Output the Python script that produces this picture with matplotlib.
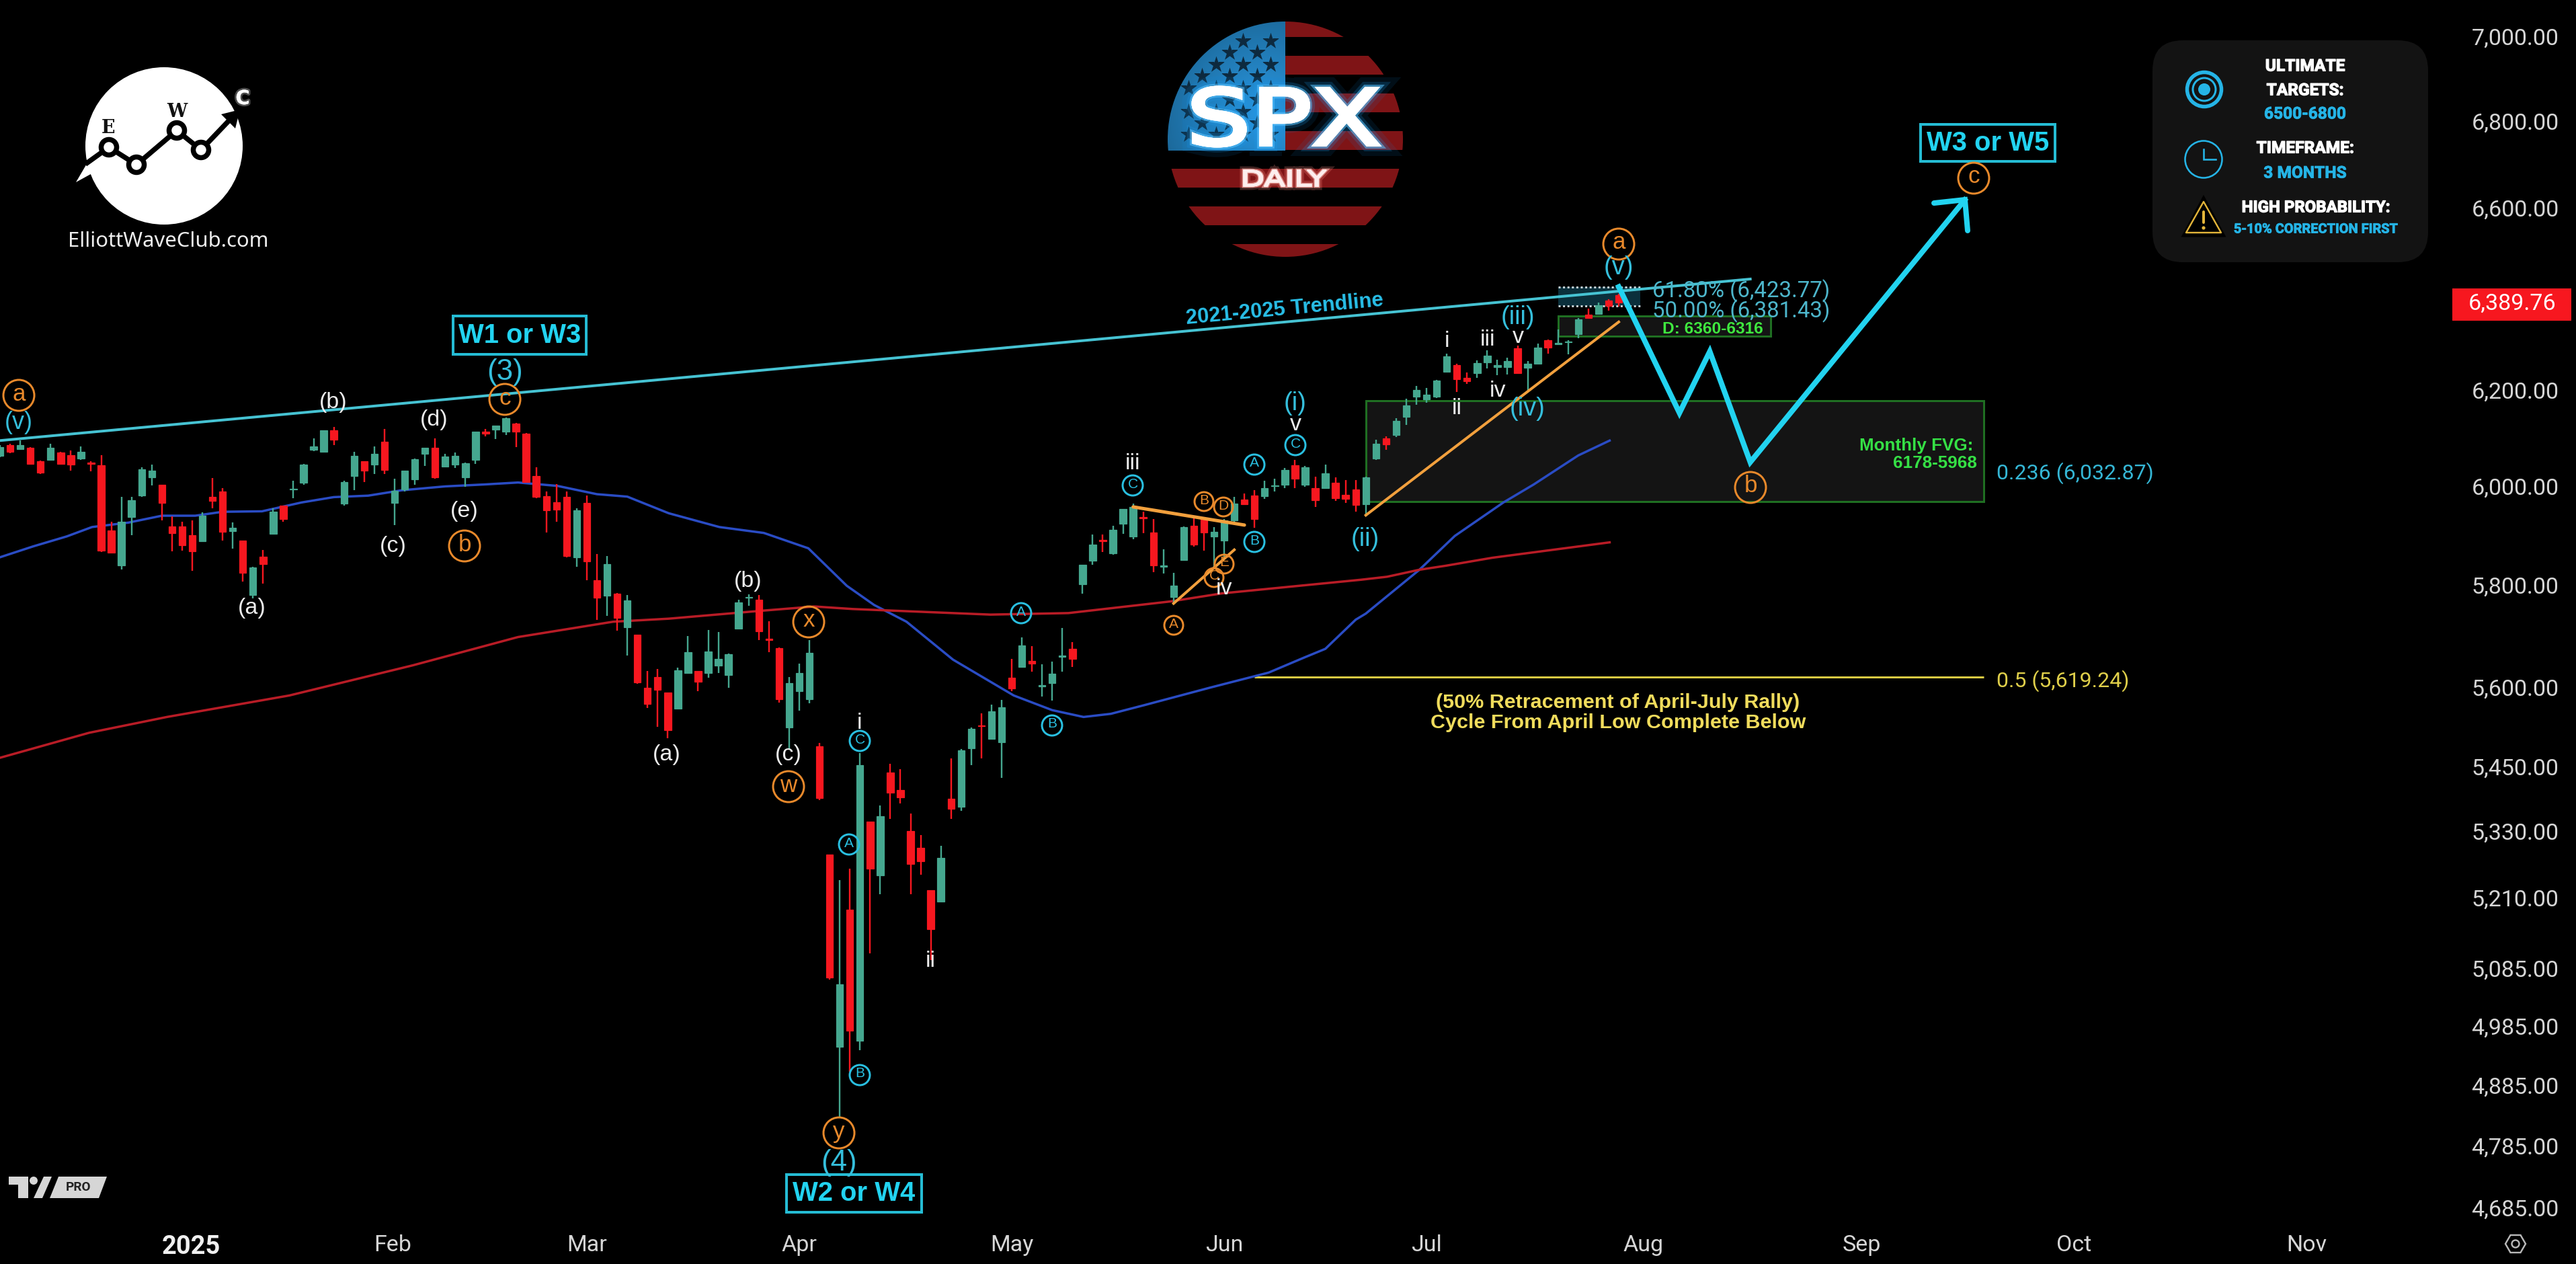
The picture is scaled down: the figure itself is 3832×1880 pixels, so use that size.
import numpy as np
import matplotlib
matplotlib.use("Agg")
import matplotlib.pyplot as plt
from matplotlib.patches import Circle, Rectangle, Polygon, FancyBboxPatch, PathPatch
from matplotlib.ticker import FixedLocator, NullLocator, FixedFormatter
from matplotlib.textpath import TextPath
from matplotlib.font_manager import FontProperties
from matplotlib.transforms import Affine2D
import matplotlib.patheffects as pe

# Daily SPX candles
opens = [6062,6084,6076,6079,6051,6054,6069,6063,6057,6048,6042,5909,5838,5936,5980,6018,6002,5917,5917,5899,
         5887,5978,5989,5908,5888,5780,5856,5902,5959,5992,6007,6075,6070,6116,5964,6021,6051,6044,6092,5965,
         5992,6014,6066,6079,6040,6044,6018,6054,6112,6117,6113,6130,6109,6020,5979,5967,5978,5855,5965,5809,
         5778,5783,5716,5701,5599,5619,5590,5559,5627,5631,5627,5641,5623,5713,5774,5771,5694,5676,5523,5592,
         5577,5488,5287,4950,5188,4961,5348,5250,5438,5406,5330,5300,5224,5203,5390,5375,5484,5527,5502,5495,
         5618,5639,5650,5601,5608,5659,5674,5801,5848,5890,5863,5923,5897,5936,5905,5836,5776,5849,5919,5934,
         5897,5889,5930,5972,5980,5979,5999,6003,6043,6003,5995,5996,6006,5981,5992,5963,6056,6099,6105,6144,
         6186,6180,6186,6240,6254,6227,6237,6260,6249,6249,6290,6248,6256,6308,6299,6303,6320,6363,6364,6393,
         6405]
highs = [6084,6087,6095,6081,6053,6087,6070,6073,6082,6051,6064,5927,5977,5977,6038,6044,6002,5937,5927,5930,
         5946,6016,5995,5925,5888,5836,5869,5954,5960,6010,6046,6098,6115,6123,6010,6070,6051,6082,6118,6015,
         6032,6057,6079,6098,6066,6069,6048,6112,6118,6126,6143,6131,6110,6038,5989,6004,5989,5954,5980,5861,
         5858,5784,5780,5702,5631,5635,5590,5638,5699,5631,5711,5707,5665,5771,5781,5780,5728,5677,5620,5645,
         5691,5494,5287,5241,5262,5475,5348,5377,5455,5445,5362,5323,5224,5304,5465,5483,5523,5550,5566,5576,
         5654,5696,5679,5644,5649,5715,5687,5840,5901,5901,5918,5953,5964,5947,5932,5871,5824,5917,5934,5935,
         5916,5932,5977,5985,5991,6010,6015,6037,6054,6041,6019,6044,6017,6012,6012,6019,6096,6103,6141,6182,
         6209,6205,6222,6279,6256,6238,6264,6285,6265,6269,6296,6263,6300,6309,6331,6307,6355,6376,6390,6396,
         6409]
lows = [6060,6068,6076,6044,6025,6053,6044,6031,6054,6030,5865,5863,5830,5899,5978,6001,5930,5867,5868,5828,
        5886,5954,5888,5872,5806,5773,5802,5901,5927,5975,6002,6072,6070,6084,5960,5991,6008,6024,6024,5920,
        5989,6002,6041,6015,6039,6037,5998,6046,6103,6097,6106,6081,6006,5975,5905,5927,5855,5836,5809,5730,
        5739,5710,5661,5606,5560,5524,5503,5558,5626,5592,5618,5627,5599,5713,5759,5691,5668,5570,5482,5555,
        5569,5387,5066,4831,4908,4944,5111,5216,5353,5381,5216,5251,5100,5202,5352,5367,5452,5465,5502,5428,
        5592,5638,5630,5582,5574,5630,5639,5782,5840,5865,5860,5902,5891,5903,5825,5822,5761,5848,5876,5868,
        5836,5855,5924,5961,5914,5973,5988,5995,5996,5998,5957,5995,5969,5965,5947,5937,6054,6075,6102,6127,
        6169,6173,6184,6239,6196,6213,6226,6246,6232,6234,6236,6200,6255,6279,6298,6277,6311,6355,6363,6371,
        6380]
closes = [6081,6070,6084,6046,6027,6079,6046,6044,6070,6046,5868,5864,5927,5971,6034,6031,5965,5903,5879,5867,
          5939,5969,5906,5915,5824,5834,5841,5947,5932,5994,6044,6082,6115,6096,6008,6062,6032,6066,6033,5990,
          6032,6055,6079,6018,6061,6062,6047,6112,6109,6125,6141,6112,6008,5978,5950,5951,5858,5950,5847,5775,
          5841,5734,5769,5609,5568,5595,5518,5633,5668,5610,5669,5655,5663,5765,5776,5708,5691,5577,5608,5627,
          5666,5391,5069,5058,4978,5452,5262,5357,5401,5392,5270,5276,5154,5282,5371,5480,5520,5525,5554,5562,
          5598,5681,5646,5604,5626,5661,5655,5840,5881,5887,5911,5953,5957,5934,5838,5838,5798,5916,5881,5905,
          5906,5930,5964,5963,5932,5995,6001,6033,6015,6039,5971,6026,5975,5973,5961,6018,6087,6086,6135,6168,
          6200,6191,6220,6273,6223,6219,6258,6274,6254,6263,6237,6257,6291,6292,6301,6305,6353,6356,6384,6382,
          6389.76]
bar_index = np.arange(len(closes))

# Moving averages, sampled by bar position
ma50_bar = [0,3.3,6.6,9.1,12.7,16,19.3,22,25.9,29.8,33,36.4,39.7,44,47.9,51.2,55.1,59,62,66.1,71.1,75.5,79.9,83.7,
            86.4,89.6,94.2,100.2,104,107.1,109.8,113.2,119.6,125.4,128.9,131,134,135,140.3,143.8,148.6,151.6,156,159.1]
ma50_val = [5855,5877,5897,5916,5925,5939,5939,5947,5948,5966,5977,5980,5991,5999,6003,6007,6000,5983,5978,5944,5916,5904,5873,5798,
            5760,5727,5653,5584,5556,5543,5549,5566,5599,5628,5657,5674,5731,5743,5830,5898,5966,6003,6063,6094]
ma200_bar = [0,8.8,16.5,28.6,40.8,51.2,60.6,66.1,74.9,80.5,84.3,97.9,105.6,115.7,120.8,134.5,137.1,140.3,142.9,147.5,159.1]
ma200_val = [5466,5513,5543,5584,5642,5697,5727,5733,5748,5757,5752,5741,5744,5767,5783,5810,5816,5830,5838,5854,5885]

# Long-term trendline endpoints and projected wave path
trend_bar = [0,173]
trend_val = [6094,6441]
path_bar = [160,166,169,173,194.2]
path_val = [6423.77,6152,6283,6049,6618]
big_orange_bar = [135,160]
big_orange_val = [5940,6347]
wedge_upper_bar = [112,123]
wedge_upper_val = [5957,5920]
wedge_lower_bar = [116,122]
wedge_lower_val = [5763,5870]

# Price zones
fvg_top, fvg_bottom = 6178, 5968
daily_top, daily_bottom = 6360, 6316
fib_618, fib_500 = 6423.77, 6381.43
fib_half = 5619.24
last_price = 6389.76

price_ticks = [7000,6800,6600,6200,6000,5800,5600,5450,5330,5210,5085,4985,4885,4785,4685]
month_bars = [18.9,38.8,58,79,100,121,141,162.4,184,205,228]
month_labels = ["2025","Feb","Mar","Apr","May","Jun","Jul","Aug","Sep","Oct","Nov"]

W, H = 3832, 1880
BAR_PX = 15.05
AXIS_RIGHT = 3650
AXIS_BOTTOM = 1815
CYAN = "#22d3f0"
LABEL_CYAN = "#35bfdc"
ORANGE = "#e8892b"
WHITE = "#ededed"
GREEN_UP = "#45a78f"
RED_DN = "#f7171f"
SANS = "Liberation Sans"


def pt(px):
    return px * 0.72


fig = plt.figure(figsize=(W / 100, H / 100), dpi=100, facecolor="black")
ax = fig.add_axes([0, (H - AXIS_BOTTOM) / H, AXIS_RIGHT / W, AXIS_BOTTOM / H], facecolor="black")
ax.set_yscale("log")
ax.set_xlim(0, AXIS_RIGHT / BAR_PX)
ax.set_ylim(7000 * np.exp(-(AXIS_BOTTOM - 54) / 4338), 7000 * np.exp(54 / 4338))
for s in ax.spines.values():
    s.set_visible(False)
ax.yaxis.tick_right()
ax.yaxis.set_major_locator(FixedLocator(price_ticks))
ax.yaxis.set_major_formatter(FixedFormatter([f"{v:,.2f}" for v in price_ticks]))
ax.yaxis.set_minor_locator(NullLocator())
ax.tick_params(axis="y", length=0, pad=19, labelsize=pt(34), labelcolor="#d6d6d6")
ax.set_xticks(month_bars)
ax.set_xticklabels(month_labels)
ax.tick_params(axis="x", length=0, pad=15, labelsize=pt(34), labelcolor="#d6d6d6")
for lab in ax.get_yticklabels() + ax.get_xticklabels():
    lab.set_family("Roboto")
ax.get_xticklabels()[0].set_fontweight("bold")
ax.get_xticklabels()[0].set_fontsize(pt(38))
ax.get_xticklabels()[0].set_color("#f0f0f0")

# Zones behind the candles
ax.add_patch(Rectangle((135, fvg_bottom), 61.1, fvg_top - fvg_bottom, fc="#141414", ec="#1f6f22", lw=pt(3), zorder=1))
ax.add_patch(Rectangle((154, daily_bottom), 21, daily_top - daily_bottom, fc="#141414", ec="#1f6f22", lw=pt(3), zorder=1))
ax.add_patch(Rectangle((154, fib_500), 8.1, fib_618 - fib_500, fc="#0b303c", ec="none", zorder=1))
ax.hlines([fib_618, fib_500], 154, 162.1, colors="#c7d4d8", linestyles=(0, (1, 1.2)), lw=pt(3), zorder=2)
ax.hlines([fib_half], 124, 196.1, colors="#d8c942", lw=pt(3), zorder=2)

# Moving averages under the candles
ax.plot(ma50_bar, ma50_val, color="#2a4cc4", lw=pt(3.5), zorder=3)
ax.plot(ma200_bar, ma200_val, color="#b81c26", lw=pt(3.5), zorder=3)
ax.plot(trend_bar, trend_val, color="#46c3d3", lw=pt(4), zorder=6)

# Candles
o, h, l, c = map(np.asarray, (opens, highs, lows, closes))
colors = np.where(c >= o, GREEN_UP, RED_DN)
ax.vlines(bar_index, l, h, colors=colors, lw=pt(2.4), zorder=4)
ax.bar(bar_index, np.abs(c - o), bottom=np.minimum(o, c), width=10.4 / BAR_PX,
       color=colors, edgecolor=colors, lw=pt(1.2), zorder=5)

# Drawn trendlines and projection
ax.plot(big_orange_bar, big_orange_val, color="#f2a03d", lw=pt(4), zorder=7)
ax.plot(wedge_upper_bar, wedge_upper_val, color="#f2a03d", lw=pt(5), zorder=7, solid_capstyle="round")
ax.plot(wedge_lower_bar, wedge_lower_val, color="#f2a03d", lw=pt(4), zorder=7)
ax.plot(path_bar, path_val, color=CYAN, lw=pt(8), zorder=8, solid_joinstyle="miter")

# Overlay in pixel coordinates for labels and badges
ov = fig.add_axes([0, 0, 1, 1], facecolor="none", zorder=5)
ov.set_xlim(0, W)
ov.set_ylim(H, 0)
ov.axis("off")


def label(x, y, s, color=WHITE, px=34, family=SANS, weight="normal", ha="center", **kw):
    return ov.text(x, y, s, color=color, fontsize=pt(px), family=family, fontweight=weight,
                   ha=ha, va="center", **kw)


def circled(x, y, s, color=ORANGE, r=23, px=35):
    ov.add_patch(Circle((x, y), r, fill=False, ec=color, lw=pt(3)))
    label(x, y - 2, s, color, px)


def boxed(x0, x1, y0, y1, s):
    ov.add_patch(Rectangle((x0, y0), x1 - x0, y1 - y0, fill=False, ec="#25bcd4", lw=pt(4)))
    label((x0 + x1) / 2, (y0 + y1) / 2, s, CYAN, 40, weight="bold")


def fitted_glyphs(s, x0, x1, y0, y1, face, edge, edge_px, effects, family="DejaVu Sans", weight="normal"):
    # Outline text stretched to an exact pixel box on the overlay
    tp = TextPath((0, 0), s, size=100, prop=FontProperties(family=family, weight=weight))
    bb = tp.get_extents()
    tr = (Affine2D().translate(-bb.x0, -bb.y0).scale((x1 - x0) / bb.width, -(y1 - y0) / bb.height)
          .translate(x0, y1))
    patch = PathPatch(tp.transformed(tr), fc=face, ec=edge, lw=pt(edge_px), zorder=4, path_effects=effects)
    ov.add_patch(patch)


boxed(674, 872, 470, 527, "W1 or W3")
boxed(1170, 1371, 1747, 1803, "W2 or W4")
boxed(2857, 3057, 185, 240, "W3 or W5")

white_labels = [(496, 598, "(b)"), (646, 625, "(d)"), (585, 813, "(c)"), (691, 761, "(e)"), (375, 904, "(a)"),
                (992, 1122, "(a)"), (1113, 864, "(b)"), (1173, 1122, "(c)"), (1279, 1076, "i"), (1384, 1429, "ii"),
                (1685, 690, "iii"), (1927, 632, "v"), (1821, 875, "iv"), (2258, 502, "v"), (2153, 507, "i"),
                (2213, 505, "iii"), (2228, 582, "iv"), (2167, 607, "ii")]
for x, y, s in white_labels:
    label(x, y, s)

cyan_labels = [(28, 628, "(v)", 36), (751, 553, "(3)", 44), (1248, 1729, "(4)", 44), (1927, 600, "(i)", 38),
               (2031, 802, "(ii)", 38), (2408, 398, "(v)", 38), (2258, 472, "(iii)", 38), (2272, 608, "(iv)", 38)]
for x, y, s, px in cyan_labels:
    label(x, y, s, LABEL_CYAN, px)

big_circles = [(28, 588, "a"), (751, 594, "c"), (691, 812, "b"), (1203, 925, "x"), (1173, 1170, "w"),
               (1248, 1685, "y"), (2408, 363, "a"), (2604, 725, "b"), (2936, 265, "c")]
for x, y, s in big_circles:
    circled(x, y, s)

cyan_small = [(1279, 1102, "C"), (1263, 1256, "A"), (1279, 1599, "B"), (1519, 912, "A"), (1565, 1079, "B"),
              (1685, 722, "C"), (1866, 691, "A"), (1866, 806, "B"), (1927, 662, "C")]
for x, y, s in cyan_small:
    circled(x, y, s, "#29bfe0", 15, 21)

orange_small = [(1746, 930, "A"), (1791, 746, "B"), (1820, 754, "D"), (1821, 839, "E"), (1806, 859, "C")]
for x, y, s in orange_small:
    circled(x, y, s, ORANGE, 14, 21)

# Arrowhead on the projection
ov.plot([2877, 2923, 2927], [302, 297, 343], color=CYAN, lw=pt(8), solid_capstyle="round", solid_joinstyle="miter")

label(1911, 460, "2021-2025 Trendline", "#29bfe8", 31, weight="bold", rotation=5.3, rotation_mode="anchor")
label(2458, 433, "61.80% (6,423.77)", "#4db6cb", 33, ha="left", family="Roboto")
label(2458, 463, "50.00% (6,381.43)", "#4db6cb", 33, ha="left", family="Roboto")
label(2548, 490, "D: 6360-6316", "#3fe83f", 24.5, weight="bold")
label(2935, 663, "Monthly FVG:", "#35e045", 26, weight="bold", ha="right")
label(2941, 689, "6178-5968", "#35e045", 26, weight="bold", ha="right")
label(2970, 704, "0.236 (6,032.87)", "#35b7d6", 32, ha="left", family="Roboto")
label(2970, 1013, "0.5 (5,619.24)", "#dfcf4a", 32, ha="left", family="Roboto")
label(2407, 1045, "(50% Retracement of April-July Rally)", "#f0dc5c", 30.5, weight="bold")
label(2407, 1075, "Cycle From April Low Complete Below", "#f0dc5c", 30.5, weight="bold")

# Last price tag
ov.add_patch(Rectangle((3648, 429), 177, 48, fc="#f7171f", ec="none"))
label(3737, 452, f"{last_price:,.2f}", "#ffffff", 34, family="Roboto")

# Settings glyph
theta = np.deg2rad(np.arange(0, 360, 60))
ov.add_patch(Polygon(np.c_[3742 + 15 * np.cos(theta), 1850 + 15 * np.sin(theta)], closed=True,
                     fill=False, ec="#b9b9b9", lw=pt(2.4)))
ov.add_patch(Circle((3742, 1850), 5.5, fill=False, ec="#b9b9b9", lw=pt(2.4)))

# Information panel
ov.add_patch(FancyBboxPatch((3202 + 45, 60 + 45), 410 - 90, 330 - 90, boxstyle="round,pad=45,rounding_size=45",
                            fc="#131313", ec="none"))
PANEL_BLUE = "#25b4e6"
heavy = [pe.withStroke(linewidth=0.9, foreground="#ffffff")]
heavy_blue = [pe.withStroke(linewidth=0.6, foreground=PANEL_BLUE)]
label(3429, 99, "ULTIMATE", "#ffffff", 24.5, "Roboto", "bold", path_effects=heavy)
label(3429, 135, "TARGETS:", "#ffffff", 24.5, "Roboto", "bold", path_effects=heavy)
label(3429, 170, "6500-6800", PANEL_BLUE, 24.5, "Roboto", "bold", path_effects=heavy_blue)
label(3429, 221, "TIMEFRAME:", "#ffffff", 24.5, "Roboto", "bold", path_effects=heavy)
label(3429, 258, "3 MONTHS", PANEL_BLUE, 24.5, "Roboto", "bold", path_effects=heavy_blue)
label(3445, 309, "HIGH PROBABILITY:", "#ffffff", 24, "Roboto", "bold", path_effects=heavy)
label(3445, 341, "5-10% CORRECTION FIRST", PANEL_BLUE, 20, "Roboto", "bold", path_effects=heavy_blue)

ov.add_patch(Circle((3279, 133), 25.5, fill=False, ec=PANEL_BLUE, lw=pt(5.5)))
ov.add_patch(Circle((3279, 133), 17, fill=False, ec=PANEL_BLUE, lw=pt(3)))
ov.add_patch(Circle((3279, 133), 9, fc=PANEL_BLUE, ec="none"))
ov.add_patch(Circle((3278, 237), 27.5, fill=False, ec=PANEL_BLUE, lw=pt(2.6)))
ov.plot([3278, 3278, 3296], [222, 237, 237], color=PANEL_BLUE, lw=pt(2.6), solid_joinstyle="miter")
ov.add_patch(Polygon([(3278, 293), (3247, 351), (3309, 351)], closed=True, fc="black", ec="black", lw=pt(3)))
ov.add_patch(Polygon([(3278, 300), (3252, 346), (3304, 346)], closed=True, fc="black", ec="#e3b53a", lw=pt(2.4),
                     joinstyle="round"))
ov.plot([3278, 3278], [315, 331], color="#e3b53a", lw=pt(4), solid_capstyle="round")
ov.add_patch(Circle((3278, 339), 2.6, fc="#e3b53a", ec="none"))

# SPX flag badge
cx, cy, cr = 1912, 207, 175
disc = Circle((cx, cy), cr, transform=ov.transData, fc="none", ec="none")
ov.add_patch(disc)
for y0, y1 in [(32, 55), (83, 111), (139, 167), (195, 223), (251, 279), (307, 335), (363, 382)]:
    r = Rectangle((cx if y0 < 224 else cx - cr, y0), cr if y0 < 224 else 2 * cr, y1 - y0, fc="#7f1416", ec="none")
    ov.add_patch(r)
    r.set_clip_path(disc)

yy, xx = np.mgrid[32:224, cx - cr:cx]
glow = np.clip(1 - np.hypot(xx - 1880, yy - 170) / 150, 0, 1)
canton = np.zeros(xx.shape + (4,))
canton[..., 0] = (28 + 14 * glow) / 255
canton[..., 1] = (106 + 46 * glow) / 255
canton[..., 2] = (156 + 70 * glow) / 255
canton[..., 3] = 1
im = ov.imshow(canton, extent=(cx - cr, cx, 224, 32), aspect="auto", zorder=1, interpolation="bilinear")
im.set_clip_path(disc)
ov.set_xlim(0, W)
ov.set_ylim(H, 0)

star_rows = [(61, [1849.3, 1890]), (78.3, [1829, 1869.7]), (96, [1808.7, 1849.3, 1890]),
             (113.3, [1788.3, 1829, 1869.7]), (130.7, [1768, 1808.7, 1849.3, 1890]), (148.3, [1788.3, 1829, 1869.7]),
             (165.7, [1768, 1808.7, 1849.3, 1890]), (183.3, [1788.3, 1829, 1869.7]), (200, [1768, 1808.7, 1849.3, 1890])]
for ys, xs in star_rows:
    st = ov.scatter(xs, [ys] * len(xs), marker="*", s=340, c="#0d2a3f", linewidths=0, zorder=2)
    st.set_clip_path(disc)

fitted_glyphs("SPX", 1775, 2050, 130, 217, "white", "white", 5,
              [pe.withStroke(linewidth=24, foreground="#0d8fe8", alpha=0.10),
               pe.withStroke(linewidth=14, foreground="#1a9cf0", alpha=0.20),
               pe.withStroke(linewidth=8, foreground="#5cc4ff", alpha=0.55), pe.Normal()])
fitted_glyphs("DAILY", 1850, 1973, 253, 277, "#fdeeee", "#fdeeee", 1.5,
              [pe.withStroke(linewidth=8, foreground="#ff8a80", alpha=0.25),
               pe.withStroke(linewidth=3.5, foreground="#ffc0b8", alpha=0.6), pe.Normal()])

# Club logo
ov.add_patch(Circle((244, 217), 117, fc="white", ec="none"))
ov.add_patch(Polygon([(113, 271), (130, 242), (144, 254)], closed=True, fc="white", ec="none"))
knot_x = [130, 162, 203, 263, 299, 340]
knot_y = [242, 219, 245, 194, 223, 180]
ov.plot(knot_x, knot_y, color="black", lw=pt(7.5), solid_joinstyle="miter")
ov.add_patch(Polygon([(357, 163), (329, 170), (350, 191)], closed=True, fc="black", ec="none"))
for x, y in zip(knot_x[1:5], knot_y[1:5]):
    ov.add_patch(Circle((x, y), 11.5, fc="white", ec="black", lw=pt(7.5), zorder=3))
label(161, 191, "E", "#111111", 27, "DejaVu Serif", "bold", zorder=4)
label(263, 166, "W", "#111111", 27, "DejaVu Serif", "bold", zorder=4)
ov.text(361, 147, "C", color="white", fontsize=pt(29), family="DejaVu Sans", fontweight="bold", ha="center", va="center",
        path_effects=[pe.withStroke(linewidth=4, foreground="#ffffff", alpha=0.3), pe.Normal()])
label(250, 359, "ElliottWaveClub.com", "#ededed", 31, "Noto Sans")

# Platform badge
GREY = "#d6d6d6"
ov.add_patch(Polygon([(13, 1750), (42, 1750), (42, 1782), (27, 1782), (27, 1762), (13, 1762)], closed=True, fc=GREY, ec="none"))
ov.add_patch(Circle((50, 1756), 6, fc=GREY, ec="none"))
ov.add_patch(Polygon([(65, 1750), (77, 1750), (63, 1782), (50, 1782)], closed=True, fc=GREY, ec="none"))
ov.add_patch(Polygon([(87, 1750), (159, 1750), (147, 1782), (74, 1782)], closed=True, fc=GREY, ec="none"))
label(117, 1766, "PRO", "#222222", 19, "Roboto", "bold")

fig.savefig("out.png", dpi=100, facecolor="black")
